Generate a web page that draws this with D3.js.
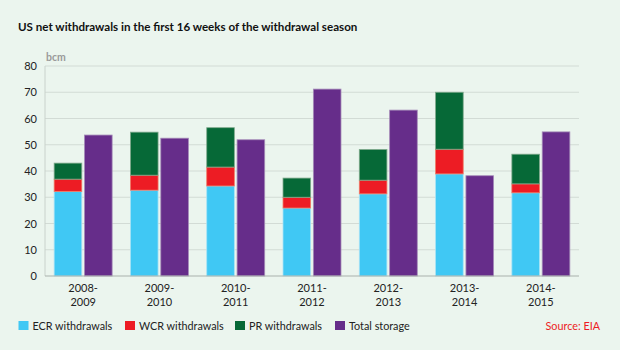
<!DOCTYPE html>
<html>
<head>
<meta charset="utf-8">
<script src="https://cdn.jsdelivr.net/npm/d3@7"></script>
<style>
  body { margin: 0; background: #ebf5ee; }
  svg { display: block; font-family: "Lato", "Liberation Sans", sans-serif; }
</style>
</head>
<body>
<div id="chart"></div>
<script>
// Data (bcm)
const seasons = ["2008-2009", "2009-2010", "2010-2011", "2011-2012", "2012-2013", "2013-2014", "2014-2015"];
const ecrValues = [32.2, 32.7, 34.3, 25.9, 31.3, 38.9, 31.7];
const wcrValues = [4.7, 5.7, 7.2, 4.1, 5.2, 9.4, 3.4];
const prValues = [6.1, 16.4, 15.0, 7.3, 11.7, 21.7, 11.3];
const totalStorage = [53.7, 52.5, 51.9, 71.2, 63.2, 38.2, 54.9];
const yTicks = [0, 10, 20, 30, 40, 50, 60, 70, 80];

const seriesNames = ["ECR withdrawals", "WCR withdrawals", "PR withdrawals", "Total storage"];
const colors = {
    "ECR withdrawals": "#40c8f4",
    "WCR withdrawals": "#ed1c24",
    "PR withdrawals": "#066937",
    "Total storage": "#662d8a"
};
const strokes = {
    "ECR withdrawals": "#a9e3f6",
    "WCR withdrawals": "#f07b66",
    "PR withdrawals": "#7fa98c",
    "Total storage": "#a58bb8"
};

const width = 620, height = 350;
const margin = { top: 66, right: 41, bottom: 74, left: 45 };
const innerW = width - margin.left - margin.right;
const innerH = height - margin.top - margin.bottom;

const svg = d3.select('#chart')
    .append('svg')
    .attr('width', width)
    .attr('height', height);

svg.append('rect')
    .attr('width', width)
    .attr('height', height)
    .attr('fill', '#ebf5ee');

// Title
svg.append('text')
    .attr('x', 18)
    .attr('y', 31)
    .style('font-size', '11.6px')
    .style('font-weight', 'bold')
    .style('fill', '#111')
    .text('US net withdrawals in the first 16 weeks of the withdrawal season');

const g = svg.append('g')
    .attr('transform', `translate(${margin.left},${margin.top})`);

const x0 = d3.scaleBand()
    .domain(seasons)
    .range([0, innerW])
    .paddingInner(0.24)
    .paddingOuter(0.12);

const x1 = d3.scaleBand()
    .domain(["stack", "total"])
    .range([0, x0.bandwidth()])
    .paddingInner(0.09);

const y = d3.scaleLinear()
    .domain([0, 80])
    .range([innerH, 0]);

// Grid lines
g.selectAll('.grid')
    .data(yTicks.filter(d => d > 0))
    .enter()
    .append('line')
    .attr('class', 'grid')
    .attr('x1', 0)
    .attr('x2', innerW)
    .attr('y1', d => y(d))
    .attr('y2', d => y(d))
    .style('stroke', '#d2dbd5')
    .style('stroke-width', 1);

// Y axis
const yAxis = g.append('g')
    .call(d3.axisLeft(y).tickValues(yTicks).tickSize(0).tickPadding(8));
yAxis.select('.domain').remove();
g.append('line')
    .attr('x1', 0).attr('x2', 0)
    .attr('y1', 0).attr('y2', innerH)
    .style('stroke', '#c9d2cc');
yAxis.selectAll('text')
    .style('font-size', '11px')
    .style('fill', '#222')
    .style('font-family', '"Lato", sans-serif');

svg.append('text')
    .attr('x', 46)
    .attr('y', 61)
    .style('font-size', '10.5px')
    .style('font-weight', 'bold')
    .style('fill', '#9a9a9a')
    .text('bcm');

// Stacked bars
const stackRows = seasons.map((s, i) => ({
    season: s,
    "ECR withdrawals": ecrValues[i],
    "WCR withdrawals": wcrValues[i],
    "PR withdrawals": prValues[i]
}));
const stacked = d3.stack().keys(seriesNames.slice(0, 3))(stackRows);

g.selectAll('.layer')
    .data(stacked)
    .enter()
    .append('g')
    .attr('class', 'layer')
    .selectAll('rect')
    .data(layer => layer.map(d => ({ key: layer.key, d })))
    .enter()
    .append('rect')
    .attr('x', p => x0(p.d.data.season) + x1('stack'))
    .attr('y', p => y(p.d[1]))
    .attr('width', x1.bandwidth())
    .attr('height', p => y(p.d[0]) - y(p.d[1]))
    .style('fill', p => colors[p.key])
    .style('stroke', p => strokes[p.key])
    .style('stroke-width', 0.8);

// Total storage bars
g.selectAll('.total')
    .data(seasons.map((s, i) => ({ season: s, value: totalStorage[i] })))
    .enter()
    .append('rect')
    .attr('class', 'total')
    .attr('x', d => x0(d.season) + x1('total'))
    .attr('y', d => y(d.value))
    .attr('width', x1.bandwidth())
    .attr('height', d => innerH - y(d.value))
    .style('fill', colors["Total storage"])
    .style('stroke', strokes["Total storage"])
    .style('stroke-width', 0.8);

// X axis baseline
g.append('line')
    .attr('x1', 0).attr('x2', innerW)
    .attr('y1', innerH).attr('y2', innerH)
    .style('stroke', '#a9b1ac')
    .style('stroke-width', 1.2);

// X labels (two lines)
const xLabels = g.selectAll('.xlab')
    .data(seasons)
    .enter()
    .append('text')
    .attr('class', 'xlab')
    .attr('x', d => x0(d) + x0.bandwidth() / 2)
    .attr('y', innerH + 16)
    .attr('text-anchor', 'middle')
    .style('font-size', '11px')
    .style('fill', '#222');
xLabels.append('tspan')
    .attr('x', d => x0(d) + x0.bandwidth() / 2)
    .text(d => d.split('-')[0] + '-');
xLabels.append('tspan')
    .attr('x', d => x0(d) + x0.bandwidth() / 2)
    .attr('dy', 14)
    .text(d => d.split('-')[1]);

// Legend
const legendX = [18.5, 125, 235, 335];
const legend = svg.selectAll('.legend')
    .data(seriesNames)
    .enter()
    .append('g')
    .attr('class', 'legend')
    .attr('transform', (d, i) => `translate(${legendX[i]},321)`);
legend.append('rect')
    .attr('width', 10)
    .attr('height', 9)
    .style('fill', d => colors[d]);
legend.append('text')
    .attr('x', 14)
    .attr('y', 9)
    .style('font-size', '10.8px')
    .style('fill', '#222')
    .text(d => d);

svg.append('text')
    .attr('x', 600)
    .attr('y', 330)
    .attr('text-anchor', 'end')
    .style('font-size', '10.8px')
    .style('fill', '#ed1c24')
    .text('Source: EIA');
</script>
</body>
</html>
